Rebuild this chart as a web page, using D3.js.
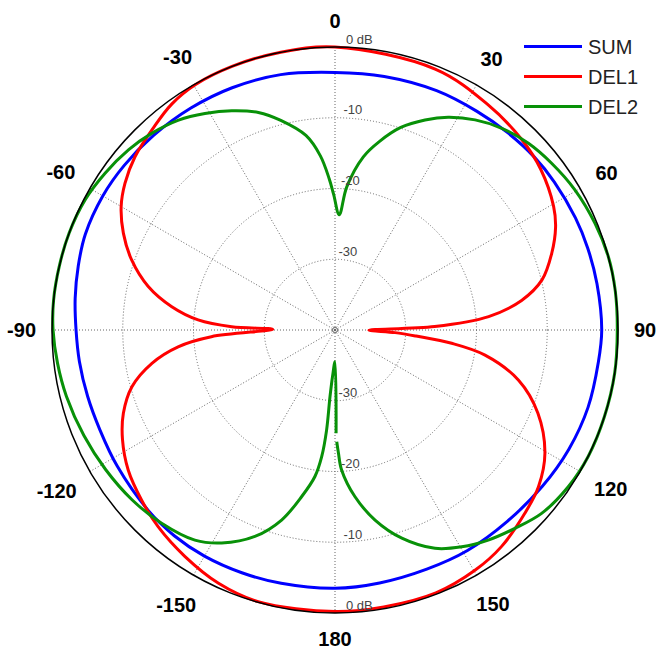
<!DOCTYPE html>
<html>
<head>
<meta charset="utf-8">
<script src="https://cdn.jsdelivr.net/npm/d3@7"></script>
<style>
	body { margin: 0; background: white; }
	svg { display: block; font-family: Arial, 'Liberation Sans', sans-serif; }
</style>
</head>
<body>
<svg width="661" height="652"></svg>
<script>
// values: [angle deg clockwise from top, level dB]
let sumData = [
	[0, -3.6], [11, -3.5], [23, -3.25], [33, -3.15], [41, -2.95], [49, -2.7], [56, -2.6],
	[65, -2.5], [72, -2.45], [80, -2.4], [90, -2.3], [97, -2.5], [107, -2.6], [117, -2.9],
	[127, -3.3], [138, -3.6], [149, -3.65], [159, -3.8], [170, -3.7], [180, -3.5],
	[192, -3.4], [201, -3.25], [210, -3.1], [218, -3.1], [226, -3.3], [238, -3.7],
	[247, -3.9], [255, -3.8], [263, -3.6], [270, -3.4], [277, -3.0], [284, -2.6],
	[291, -2.2], [300, -2.1], [308, -2.2], [317, -2.4], [327, -2.6], [337, -2.8], [348, -3.1]
]

let del1Data = [
	[0, 0], [21, -0.5], [34, -1.5], [44.5, -2.3], [52, -3.1], [60.5, -4.5], [65, -5.6],
	[70.5, -7.5], [76.4, -9.9], [81, -13.3], [85, -18.2], [88, -25.9], [90.3, -35.2],
	[92.5, -31.5], [94.3, -28.5], [96.5, -23.4], [99.5, -18.5], [105.3, -13.1], [112.3, -9.0],
	[120.4, -5.6], [127.6, -3.7], [134, -2.7], [142.4, -1.4], [149.7, -0.7], [159, -0.2],
	[170, -0.25], [180, -0.2], [195.8, -0.1], [204.7, -0.6], [213.5, -1.6], [221.9, -2.6],
	[228.7, -3.6], [235.9, -4.7], [242.7, -6.2], [248.5, -7.85], [254.4, -10.2], [259.7, -13.7],
	[263.9, -17.7], [266.9, -22.5], [270.6, -31.2], [271.8, -25.4], [274.2, -20.6],
	[278.1, -16.7], [283.1, -12.9], [289, -9.6], [294.6, -7.1], [300, -5.1], [304.9, -3.8],
	[310.9, -2.6], [318, -1.6], [324.2, -0.6], [330.4, -0.1], [338.8, 0], [348.5, 0]
]

// starts just after the small break near 180 and runs the whole way round
let del2Data = [
	[179.4, -25.4], [180, -35.5], [183, -33.5], [184.3, -30.5], [184.8, -25.8], [186, -22],
	[187.8, -19.1], [191.3, -16], [195.7, -12.1], [201.2, -8.7], [208, -5.9], [213.7, -4.3],
	[221.9, -3.3], [230.1, -2.6], [238.7, -2.05], [247.2, -1.5], [256.1, -0.9], [263.2, -0.5],
	[270, -0.15], [276, 0], [283, 0], [290, 0], [297.5, -0.17], [304.3, -0.66], [311.1, -1.26],
	[317, -2.0], [323.3, -3.0], [329, -4.3], [334.8, -5.74], [340.6, -7.4], [345.5, -9.4],
	[351.5, -12.2], [355.2, -15.3], [357.8, -18.6], [359.4, -20.8], [362.1, -23.7],
	[364.7, -19.7], [369.3, -15.2], [373.3, -12.6], [378, -9.9], [383.2, -7.7], [388, -5.94],
	[393.7, -4.3], [399.6, -3.0], [406, -2.0], [412.4, -1.36], [419.7, -0.73], [427.7, -0.28],
	[435, 0], [442, 0], [450, -0.1], [458.8, 0], [467.8, 0], [476.6, 0], [483.9, -0.28],
	[491.6, -0.95], [497.8, -2.15], [503.9, -3.25], [509.7, -4.5], [515.4, -6.06],
	[522.2, -9.1], [528.1, -12.55], [533.2, -16.3], [537.3, -20.2], [538.4, -22.6], [539.1, -24.2]
]

let series = ['SUM', 'DEL1', 'DEL2']
let colors = ['#0000ff', '#ff0000', '#089108']
let angleTicks = [0, 30, 60, 90, 120, 150, 180, -150, -120, -90, -60, -30]
let ringTicks = [-30, -20, -10, 0]

let cx = 335, cy = 330
let rMax = 283

let svg = d3.select('svg')
let g = svg.append('g').attr('transform', `translate(${cx}, ${cy})`)

let r = d3.scaleLinear().domain([-40, 0]).range([0, rMax])
let rad = d => d * Math.PI / 180

// grid
g.append('g').attr('id', 'rings').selectAll('circle')
	.data(ringTicks.slice(0, -1))
	.join('circle')
	.attr('r', d => r(d))
	.attr('fill', 'none')
	.attr('stroke', '#666').attr('stroke-width', 1)
	.attr('stroke-dasharray', '1,2')

g.append('g').attr('id', 'spokes').selectAll('line')
	.data(d3.range(0, 360, 30))
	.join('line')
	.attr('x1', 0).attr('y1', 0)
	.attr('x2', d => r(0) * Math.sin(rad(d)))
	.attr('y2', d => -r(0) * Math.cos(rad(d)))
	.attr('stroke', '#666').attr('stroke-width', 1)
	.attr('stroke-dasharray', '1,2')

g.append('circle').attr('r', 2.5)
	.attr('fill', 'none').attr('stroke', '#666').attr('stroke-width', 1)

// curves
let closedLine = d3.lineRadial()
	.angle(d => rad(d[0]))
	.radius(d => r(d[1]))
	.curve(d3.curveCatmullRomClosed.alpha(0.5))

let openLine = d3.lineRadial()
	.angle(d => rad(d[0]))
	.radius(d => r(d[1]))
	.curve(d3.curveCatmullRom.alpha(0.5))

let curves = g.append('g').attr('id', 'data')
curves.append('path').attr('d', closedLine(sumData))
	.attr('fill', 'none').attr('stroke', colors[0]).attr('stroke-width', 3)
curves.append('path').attr('d', closedLine(del1Data))
	.attr('fill', 'none').attr('stroke', colors[1]).attr('stroke-width', 3)
curves.append('path').attr('d', openLine(del2Data))
	.attr('fill', 'none').attr('stroke', colors[2]).attr('stroke-width', 3)

// outer ring
g.append('circle').attr('r', r(0))
	.attr('fill', 'none').attr('stroke', 'black').attr('stroke-width', 1.5)

// dB labels, top and bottom
let ringLabel = d => d == 0 ? '0 dB' : `${d}`
let labG = g.append('g').attr('id', 'ringLabels')
for (let side of [-1, 1]) {
	labG.selectAll(null)
		.data(ringTicks)
		.join('text')
		.attr('x', d => 1 + r(d) * Math.sin(rad(2)))
		.attr('y', d => side * r(d) - 3.5)
		.text(ringLabel)
		.style('font-size', '13px')
		.style('fill', '#444')
}

// angle labels
let angG = g.append('g').attr('id', 'angleLabels')
angleTicks.forEach(a => {
	let t = angG.append('text')
		.text(a)
		.style('font-size', '20px')
		.style('font-weight', 'bold')
		.style('text-anchor', 'middle')
		.style('dominant-baseline', 'central')
	let bb = t.node().getBBox()
	let s = Math.sin(rad(a)), c = Math.cos(rad(a))
	let ext = Math.abs(s) * bb.width / 2 + Math.abs(c) * 10
	let rr = 299 + ext
	t.attr('x', rr * s).attr('y', -rr * c)
})

// legend
let legend = svg.append('g').attr('id', 'legend')
series.forEach((name, i) => {
	let y = 46.5 + i * 30
	legend.append('line')
		.attr('x1', 524).attr('x2', 582)
		.attr('y1', y).attr('y2', y)
		.attr('stroke', colors[i]).attr('stroke-width', 3)
	legend.append('text')
		.attr('x', 588).attr('y', y)
		.text(name)
		.style('font-size', '20px')
		.style('dominant-baseline', 'central')
		.style('fill', '#222')
})
</script>
</body>
</html>
